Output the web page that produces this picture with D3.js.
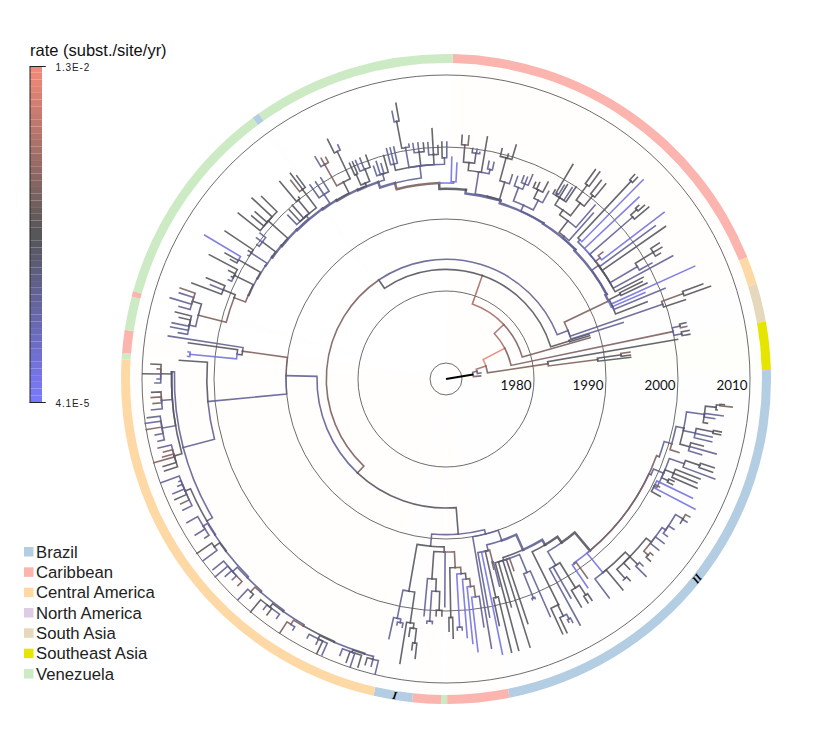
<!DOCTYPE html>
<html><head><meta charset="utf-8">
<script src="https://cdn.jsdelivr.net/npm/d3@7/dist/d3.min.js"></script>
<style>html,body{margin:0;background:#fff}svg{display:block}</style></head>
<body><svg id="c" width="831" height="752"></svg>
<script>
// ---------- values ----------
const yearTicks = [1970, 1980, 1990, 2000, 2010];
const yearLabels = [1980, 1990, 2000, 2010];
const regions = ["Brazil","Caribbean","Central America","North America","South Asia","Southeast Asia","Venezuela"];
const regionColors = ["#b3cde3","#fbb4ae","#fed9a6","#decbe4","#e5d8bd","#e5e500","#ccebc5"];
// ring: region of each stretch and the angle (degrees clockwise from north) where it ends
const ringRegion = ["Caribbean","Central America","South Asia","Southeast Asia","Brazil","Caribbean","Venezuela","Caribbean","Brazil","Central America","Venezuela","Caribbean","Venezuela","Caribbean","Venezuela","Brazil","Venezuela"];
const ringEnd    = [68,73,79.8,88.4,168.7,179.8,180.9,186,192.9,273.5,274.6,278.7,284.7,285.7,323.5,324.8,361.2];
const ringFirst = 1.2;
const cladeMarks = [{t:"I",angle:189.2},{t:"II",angle:128.5}];
const rateMin = 4.1e-5, rateMid = 7.3e-4, rateMax = 1.3e-2;
// rate classes used for the branches
const B=7e-5, S=2.6e-4, G=6.5e-4, W=1.5e-3, R=3.2e-3, P=1e-2;

const n=(year,rate,...kids)=>({year,rate,kids});
const a=(angle,year,rate,...kids)=>({angle,year,rate,kids});
const l=(angle,year,rate)=>({angle,year,rate,kids:[]});

// --- Brazil II, lower right
const g1 = a(106,2000.4,S,
  n(2001.5,S,
    n(2004,S, n(2005.5,G, n(2006,G,l(95.3,2006.6,G),l(95.6,2007.7,W)), l(96.5,2005.7,G)),
      l(97.6,2006.6,S), l(98.4,2005.5,S), l(99.6,2004.6,G)),
    n(2003.2,S, n(2005.6,G,l(100.9,2006.7,G),l(101.5,2006.7,G)), l(102.3,2005.6,S), l(103.3,2005.7,S)),
    n(2002.9,G,l(104.6,2004.7,G),l(105.5,2006.7,S),l(106.5,2004.8,S))),
  l(107.5,2001.7,W));
const g2 = n(2000.7,S,
  n(2002.9,S, n(2005,G,l(108.3,2007,G),l(109.3,2007,G)), l(110.4,2007.6,S)),
  n(2002,G,l(111.5,2005.7,G),l(112.5,2005.5,G),l(113.5,2005.8,G)),
  n(2001.7,G,l(114.2,2002.5,G),l(115,2002.5,G)),
  n(2000.3,S,l(115.8,2005.8,B),l(116.8,2001,W),l(117.6,2006.8,B),l(118.7,2001.7,G)));
const g3e = n(2006,S,l(119.5,2006.7,W),l(120.7,2006.7,S),l(121.6,2006,G));
const g3d = a(124.5,2004.8,S,g3e,l(123.4,2005.7,S),l(125.4,2005.5,S));
const g3c = a(128.5,2004.2,G,g3d,l(127,2005.7,S),l(128.8,2005.7,S),n(2005,W,l(130.4,2005.5,W),l(131.7,2005.8,G)));
const g3b = a(134,2003.3,G,g3c,n(2004.8,G,l(133.5,2005.5,S),l(134.6,2006.8,S)),l(136,2004.5,G),n(2005,G,l(137.6,2005.7,G),l(138.6,2005,S)));
const g3a = a(141,2002.4,B,g3b,l(140,2006,G),l(143.3,2005.7,S));
const pNode = a(140,1998.9,G, n(1999,B,l(145.8,2002.8,B),l(144.6,2001.7,W)), g3a, a(115,1999.2,S,g2), a(110,1999.3,W,g1));
const cl = a(149.5,1997.8,S,l(151.4,2006.7,S),l(150.3,2002.8,S),n(2001.9,G,l(149.3,2004.6,G),n(2003.5,G,l(147.6,2004.6,G),l(146.6,2004.6,G))));
const pn = n(1995.6,G,cl,pNode);
const aal = a(153.5,2002.8,G,l(155.4,2006.7,G),n(2004.5,G,l(154.5,2006.8,G),n(2005.2,S,l(153.2,2005.6,S),l(152.5,2005.9,S))));
const aar = n(1994.6,S,aal,pn);
const aaLeft = a(162.3,1994.2,G,l(165,2006.8,G),l(164,2000.7,G),l(162.6,2006.8,G),l(161.5,2003.6,G),l(160.5,1996,W),
  n(1996.9,S,n(2000.5,S,l(158.6,2000.7,S),l(157.9,2000.7,S)),l(156.3,2003.8,S)));
const aa = n(1993.8,S,aaLeft,aar);
const rl = a(166.2,1992.3,S,l(169.6,2001.4,S),l(168.4,2006.8,B),n(1998.9,G,l(167.8,2002.8,G),l(166.5,2006.8,G)),n(1994,W,l(165.9,1995,W),l(165.5,1997.5,S)));
const rNode = n(1991.5,S,rl,aa);
const qNode = n(1990,S,l(170.4,2005.7,S),rNode);
// --- below the centre
const tNode = n(1997.7,G,
  n(2001.7,S,l(192.4,2004.7,S),n(2002.2,S,l(191.3,2002.6,S),l(190,2002.8,S))),
  n(2002,G,l(189.2,2007.8,G),n(2002.7,G,l(188.2,2003.9,G),n(2004.7,G,l(187.2,2005.7,G),l(186.3,2006.8,G)))));
const u1 = n(1995.6,G,l(185.3,2000.8,S),n(1997.3,G,n(2001.5,S,l(184.5,2001.8,S),l(183.2,2001.8,S)),n(1999.9,G,l(182.4,2000.7,G),l(181,2000.7,G))));
const uChain = n(1994.9,W,n(2002.3,B,l(177.4,2002.7,S),l(176.3,2002.7,S)),
  n(1995.7,G,l(175.3,2003.8,B),n(1996.8,W,l(174.2,2004.7,B),n(1998.3,W,l(173.3,2005.9,B),l(171.3,2002.6,S)))));
const uNode = n(1991.8,G,u1,l(180.3,1999.4,S),n(1994,W,n(2000.9,G,l(179.3,2002.8,G),l(178.4,2003.8,G)),uChain));
const sNode = n(1991.1,S,tNode,uNode);
const nNode = n(1989.4,G,sNode,qNode);
// --- Central America
const mu1 = n(2007.4,G,l(272.9,2008.8,G),l(272,2007.9,W),l(271,2009.9,G),l(270,2007.9,S),l(269.2,2008.2,S));
const mu2 = n(2007.4,S,l(267.4,2008.7,G),l(266.4,2008.8,W),l(265.2,2008.6,W),l(264,2008.9,S));
const mu3 = n(2007.8,S,l(262.6,2009.6,S),l(261.6,2010,S),l(260.4,2010,W),l(259.1,2008.9,S),l(257.8,2008.7,S));
const mu4 = n(2007,G,l(256.5,2008.9,S),l(255.5,2008.3,W),l(254.6,2008.6,W),l(254,2010,W),l(252.8,2008.9,G),l(251.9,2008.9,G));
const mUp = a(271.5,2005.9,S,mu1,mu2,mu3,mu4);
const md1 = n(2007.2,G,l(250,2009.9,S),l(249,2007.5,S),l(248.2,2007.9,S),l(247.2,2008.9,S),l(246,2009,G),l(244.8,2008.5,W),l(243.5,2008.6,S));
const ch8 = a(196.5,2007.6,S,n(2008,S,l(193.5,2009.9,S),l(194.6,2009,S),l(195.8,2009,G)),n(2007.9,G,l(197,2009.6,G),l(198.4,2009.9,S),l(199.4,2009.5,G),l(201,2008.9,S)));
const ch7 = a(203,2007.5,G,ch8,n(2008,G,l(204.2,2009.8,S),l(205.2,2009.9,G),l(206.1,2008.8,S),l(208.2,2008.6,S)));
const ch6 = a(210,2007.4,S,ch7,n(2008.1,W,l(211.4,2008.6,S),l(213.2,2009.9,W)));
const ch5 = a(215,2007.2,S,ch6,n(2007.8,G,l(215.3,2008.5,S),l(217.2,2008.9,G),l(218.4,2008.6,S),l(220,2010,G)));
const ch4 = a(221,2007,S,ch5,n(2007.9,W,l(221.8,2008.6,G),l(223.3,2009.9,S)));
const ch3 = a(225,2006.8,S,ch4,n(2007.7,S,l(225.2,2008.5,W),l(226.8,2008.5,S),l(228.2,2008.9,S),l(229.4,2010,S),l(230.7,2009.6,S)));
const ch2 = a(232,2006.6,S,ch3,n(2007.5,G,l(233.2,2009.9,S),l(235,2010,G)));
const ch1 = a(236,2006.5,S,ch2,n(2007.2,S,l(236.6,2007.9,S),l(238.1,2008.8,S),l(241,2008.9,S)));
const mDown = a(239.3,2006.4,S,ch1,md1);
const mNode = n(2005.5,S,mUp,mDown);
const kNode = n(1996.3,W,l(278.8,2006.8,S),n(1997,G,l(278,2003.9,G),n(2003.5,B,l(276,2003.8,B),l(275,2003.8,B))));
const jNode = n(1990,S,kNode,a(264.6,2001,S,l(274,2004.9,G),mNode));
const iNode = n(1985.7,W,jNode,nNode);
// --- Venezuela
const fa = n(2004.2,S,l(279.8,2005.5,S),l(280.7,2006.7,S),l(281.6,2006.6,S),l(283,2005.8,G),l(283.9,2006.5,G));
const fb = n(2004.6,G,l(285.2,2006.2,S),l(286.4,2007.7,S),l(287.9,2006.7,S),l(288.9,2006.8,W));
const fc = n(2003.3,W,fa,fb);
const c0 = n(2001.1,G,l(290.7,2005.5,G),l(291.8,2003,S),l(292.9,2003.9,G));
const aL0 = a(291,1999.3,W,fc,c0);
const c1 = n(2000.5,G,l(294.5,2001,S),l(295.5,2000.8,G),l(296.5,2001.5,G),l(297.7,2004.9,G));
const c2 = n(2001,G,l(299,2002,G),l(299.7,2003.1,G),l(300.8,2006.8,B));
const c3 = n(2000,S,l(302,2000.2,S),l(303,2000.5,G),l(303.8,2004.7,G));
const c4 = n(1999.6,G,l(305.4,2000,S),l(306.7,2000.6,S),l(308.1,2000.6,S));
const c5 = n(2000.8,G,l(308.6,2004.7,G),l(310,2003,G),l(311.2,2003,G),l(313,2004.6,G),l(314.7,2003.8,G));
const c6 = n(1997.6,S,l(316,1999.4,S),l(317.2,1999.8,G),l(318.5,2000,G),n(2000,G,l(319.9,2003.6,G),l(321,2000.3,G)),n(2000.8,G,l(322,2002.8,W),l(322.9,2003.6,G),l(323.7,2002.8,G)));
const c7 = n(1998.5,S,l(325,2000.7,S),l(326.5,2000.6,S),l(328.1,2000.7,S));
const c8 = n(1998.6,G,n(2002,W,l(329.5,2003.6,S),l(330.5,2003,W),l(331.5,2002.8,W)),n(2002.8,G,l(333.7,2004.9,G),l(335.2,2003.6,S)));
const c9 = n(1997.2,G,n(1998.8,G,l(335.9,2000.6,G),l(336.7,2000.6,G)),n(1999,G,l(337.5,2000.6,S),l(338.7,2000.7,S),l(340.3,2000.8,G)));
const c10 = n(1997.6,S,l(341.2,1999,S),l(342.2,1999.5,S),l(343.2,1999,S),l(344.4,2000,G));
const aL1 = a(293,1997.6,S,aL0,c1);
const aL2 = a(298,1997.5,S,aL1,c2);
const aL3 = a(302,1997.4,S,aL2,c3);
const aL4 = a(305,1997.3,S,aL3,c4);
const aL5 = a(309,1997.2,S,aL4,c5);
const aL6 = a(315,1997.1,S,aL5,c6);
const aL7 = a(324,1997,S,aL6,c7);
const aL8 = a(328.5,1996.9,S,aL7,c8);
const aL9 = a(335,1996.8,S,aL8,c9);
const aL10 = a(341,1996.7,S,aL9,c10);
const clade46 = n(1997.6,S,n(1998.5,G,l(345.5,2000.8,S),l(346.4,2000.8,S),l(347.3,2000.8,S)),
  n(2000.4,S,n(2004.2,G,l(348.6,2005.7,S),l(349.7,2006.7,G)),l(351,2000.8,S)),
  n(1999.5,G,l(352,2000.8,S),l(353.2,2000.8,S),l(354.5,2000.7,G)),
  n(1999,G,l(355.6,2000.7,S),l(356.8,2002.6,G),l(358,2000.2,G)),
  n(1998.5,S,l(359,2000.7,G),l(360.2,2000.7,S)));
const xLeft = a(345.4,1995.9,W,aL10,clade46);
const xRight = n(1995.2,B,l(361.5,1998.6,B),l(362.9,1997.8,B));
const xNode = a(358,1995,G,xLeft,xRight);
// --- Caribbean, upper right
const c4a = n(1996.9,S,n(1998,G,n(2000.4,G,l(363.8,2001.7,G),l(365.4,2001.7,W)),n(1999.4,G,l(366.6,2000,G),l(367.7,2000,S),l(368.5,1999.6,S))),l(369.7,2001.9,G),n(1997.5,S,l(371.2,1998.6,S),l(372.5,1998.6,S)));
const c4b = n(1996.3,G,n(1999.6,G,l(373.7,2000.7,G),l(375.5,2000.2,G),l(376.7,2001.7,G)),l(378,1997.6,S));
const c4c = n(1993.8,S,c4a,c4b);
const c3a = n(1994.2,S,n(1996.2,S,l(379.5,1997.6,S),n(1997,S,l(381,1998,S),l(382,1998,S),l(383,1998.6,S))),n(1995.7,S,n(1997,G,l(384.5,1997.8,G),l(385.5,1998,G),l(387.4,1998.6,G)),l(388.7,1997.5,S)));
const c2a = n(1993.5,S,n(1995.5,G,n(1996.3,G,
    n(1997.5,G,l(390,1998.1,G),n(1997.8,G,l(390.6,2002.4,G),l(391.4,1999.3,S)),l(392,1999.6,G),l(393.4,1999.6,S),l(394.1,2000,G)),
    n(1998.5,G,n(2001.1,G,l(395.5,2003.5,G),l(396.6,2003.6,G)),n(2000.4,G,l(398,2002.8,G),l(399.3,2002.8,G)))),
    l(400.6,1999.6,S)),l(401.6,1998.6,S));
const c1a = n(1994.2,S,
  n(1994.6,S,n(2005.4,G,l(402.7,2006.4,G),l(403.5,2006.4,G)),l(404.7,2006.7,B)),
  l(406.7,2004.6,B),
  n(2002.1,S,n(2003.2,G,l(408,2003.8,G),l(408.8,2004.4,G)),l(409.7,2004.7,G)),
  n(1995,W,l(411,1995.8,W),l(412.6,2005.9,B)),
  l(413.8,2003.8,S),l(415.2,2004.9,G),
  n(1998.6,S,n(2001.5,G,l(417.5,2002.9,G),l(418.6,2002.9,G),l(419.6,2002.3,G)),l(420.6,2000.6,S)),
  l(421.5,2003.6,S),l(422.7,1998.6,G));
const ch4top = a(366,1994.2,S,xNode);
const ch3top = a(377,1993.7,S,ch4top,c4c);
const ch2top = a(392,1993.3,S,ch3top,c3a);
const ch1top = a(405,1993.2,S,ch2top,c2a);
const ch0top = a(422.2,1993,S,ch1top,c1a);
const fan = n(1993,B,l(429,1997.7,G),l(427.5,2000.7,S),l(426.5,1997.9,B),l(425.6,2005.7,B),n(1994.7,G,l(424.5,1998.7,G),l(423.6,1998.2,G)));
const wNode = n(1992.8,W,ch0top,fan);
const v2 = n(1999.6,S,n(2002.8,W,l(429.7,2005.8,G),l(430.7,2006.7,G)),l(431.7,2002.8,G));
const vNode = n(1986,S,wNode,v2,l(432.3,1993.6,S));
const hNode = n(1984.4,G,iNode,vNode);
// --- spine near the centre
const gRight = n(1985.7,G,l(432.5,1988.6,G),l(433.2,1988.6,G));
const gNode = n(1983,R,hNode,gRight);
const eNode = n(1978.8,R,gNode,l(434,1988.6,W));
const dRight = n(2000,W,n(2001.1,S,l(436.8,2002,G),l(437.7,2002,W)),n(2001.1,S,l(438.7,2002.2,G),l(439.6,2002.2,G)));
const dNode = n(1977,P,eNode,dRight);
const low = n(1989,W,n(1992.3,G,l(441.7,1993.6,W),l(442.6,1993.6,G)),l(443.3,1993.6,G));
const abNode = n(1982.1,W,l(440.3,2000.4,G),low);
const cNode = n(1973.6,R,dNode,abNode);
const aNode = n(1972.2,W,cNode,l(440,1972.7,S));
const treeRoot = n(1971.6,"#000",aNode,l(445,1972.6,W));

// ---------- drawing ----------
const cx=446, cy=379;
const r = d3.scaleLinear().domain([1970,2010]).range([16,304]);
const svg = d3.select("#c");
const rateColor = d3.scaleLog().domain([rateMin,rateMid,rateMax]).range(["#7a7aff","#555558","#f58a78"]).interpolate(d3.interpolateRgb);
const pol=(deg,rad)=>{const t=(deg-90)*Math.PI/180;return [rad*Math.cos(t),rad*Math.sin(t)];};
const color=v=>typeof v==="string"?v:rateColor(v);
const rc=d3.scaleOrdinal(regions,regionColors);
const g=svg.append("g").attr("transform",`translate(${cx},${cy})`);

// ring + faint wedges
const ringStarts=[ringFirst,...ringEnd.slice(0,-1)];
const arcGen=d3.arc();
const rad=d=>d*Math.PI/180;
ringRegion.forEach((name,i)=>{
  g.append("path").attr("fill",rc(name)).attr("opacity",0.02)
    .attr("d",arcGen({innerRadius:0,outerRadius:316,startAngle:rad(ringStarts[i]),endAngle:rad(ringEnd[i])}));
});
ringRegion.forEach((name,i)=>{
  g.append("path").attr("fill",rc(name))
    .attr("d",arcGen({innerRadius:316,outerRadius:325,startAngle:rad(ringStarts[i]),endAngle:rad(ringEnd[i])}));
});

// time circles
g.selectAll("circle.t").data(yearTicks).join("circle").attr("class","t")
  .attr("r",d=>r(d)).attr("fill","none").attr("stroke","#3c3c3c").attr("stroke-width",0.75);

// tree
const root=d3.hierarchy(treeRoot,d=>d.kids);
root.eachAfter(d=>{
  if(d.data.kids.length===0||d.data.angle!==undefined){d.theta=d.data.angle;}
  else{const e=d3.extent(d.children,c=>c.theta);d.theta=(e[0]+e[1])/2;}
  d.tips=d.children?d3.sum(d.children,c=>c.tips):1;
});
const links=root.descendants().filter(d=>d.parent);
const branch=d=>{
  const p=d3.path(), pr=r(d.parent.data.year), cr=r(d.data.year);
  const s=pol(d.parent.theta,pr);
  p.moveTo(s[0],s[1]);
  p.arc(0,0,pr,(d.parent.theta-90)*Math.PI/180,(d.theta-90)*Math.PI/180,d.theta<d.parent.theta);
  const e=pol(d.theta,cr);
  p.lineTo(e[0],e[1]);
  return p.toString();
};
const thick=d=>d.tips>=25&&r(d.parent.data.year)>170&&r(d.parent.data.year)<225;
g.append("g").attr("fill","none").selectAll("path").data(links).join("path")
  .attr("d",branch)
  .attr("stroke",d=>color(d.data.rate))
  .attr("stroke-opacity",0.9)
  .attr("stroke-width",d=>thick(d)?2.5:1.6)
  .attr("stroke-linejoin","miter")
  .attr("stroke-linecap","square");
// root stem
const stem=pol(root.theta,r(treeRoot.year));
g.append("line").datum(stem).attr("x1",0).attr("y1",0).attr("x2",d=>d[0]).attr("y2",d=>d[1])
  .attr("stroke","#000").attr("stroke-width",2);

// year labels
g.selectAll("text.y").data(yearLabels).join("text").attr("class","y")
  .attr("x",d=>r(d)-2.5).attr("y",11).attr("text-anchor","end")
  .attr("font-family","Lato, 'Noto Sans', sans-serif").attr("font-size",13.4).attr("fill","#111").text(d=>d);

// clade marks
cladeMarks.forEach(m=>{
  const p=pol(m.angle,320.5);
  g.append("text").attr("transform",`translate(${p[0]},${p[1]}) rotate(${m.angle-180})`)
   .attr("text-anchor","middle").attr("dy","0.35em")
   .attr("font-family","'Liberation Serif', serif").attr("font-style","italic").attr("font-weight","bold").attr("font-size",11).attr("fill","#000").text(m.t);
});

// colour bar
const barY=d3.scaleLinear().domain([0,1]).range([402,66]);
const bands=d3.range(50);
const logRate=d3.scaleLog().domain([rateMin,rateMax]).range([0,1]);
svg.append("g").selectAll("rect").data(bands).join("rect")
  .attr("x",30).attr("width",12)
  .attr("y",d=>barY((d+1)/50)).attr("height",d=>barY(d/50)-barY((d+1)/50))
  .attr("fill",d=>rateColor(logRate.invert((d+0.5)/50)));
const axis=d3.axisRight(d3.scaleLog().domain([rateMin,rateMax]).range([402,66])).tickValues([rateMin,rateMax]).tickFormat(v=>v===rateMax?"1.3E-2":"4.1E-5").tickSize(16).tickPadding(10);
const ax=svg.append("g").attr("transform","translate(29.5,0)").call(axis);
ax.select(".domain").attr("stroke","#222").attr("stroke-width",1);
ax.selectAll(".tick line").attr("stroke","#222").attr("stroke-width",1);
ax.selectAll("text").attr("font-family","'Liberation Sans', Arial, sans-serif").attr("font-size",10).attr("letter-spacing",0.85).attr("fill","#222").attr("dy","0.45em");
svg.append("text").attr("x",30).attr("y",56).attr("font-family","'Liberation Sans', Arial, sans-serif").attr("font-size",16.5).attr("fill","#111").text("rate (subst./site/yr)");

// legend
const legY=d3.scalePoint().domain(regions).range([552,674]);
const leg=svg.append("g").selectAll("g").data(regions).join("g").attr("transform",d=>`translate(24,${legY(d)})`);
leg.append("rect").attr("y",-5).attr("width",9.5).attr("height",9.5).attr("fill",d=>rc(d));
leg.append("text").attr("x",12).attr("y",5.5).attr("font-family","'Liberation Sans', Arial, sans-serif").attr("font-size",16.7).attr("fill","#222").text(d=>d);
</script></body></html>
